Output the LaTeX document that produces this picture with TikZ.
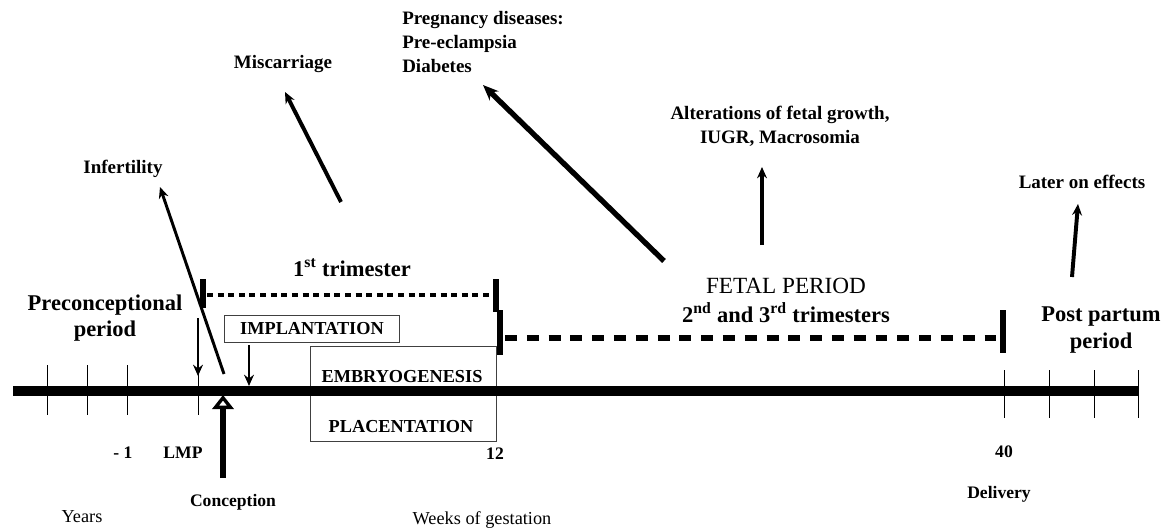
\documentclass[tikz,border=0pt]{standalone}
\usepackage{fontspec}
\setmainfont{Liberation Serif}
\usetikzlibrary{arrows.meta}

\begin{document}
\begin{tikzpicture}[x=0.025cm, y=-0.025cm, >={Stealth[length=8pt,width=7pt]},
    lbl/.style={font=\bfseries\fontsize{13.5}{17}\selectfont, inner sep=0pt},
    big/.style={font=\bfseries\fontsize{16}{19}\selectfont, inner sep=0pt, align=center},
    axl/.style={font=\bfseries\fontsize{12.5}{15}\selectfont, inner sep=0pt},
    unit/.style={font=\fontsize{13}{15}\selectfont, inner sep=0pt},
    boxlbl/.style={font=\bfseries\fontsize{13}{15}\selectfont, inner sep=0pt},
    tick/.style={line width=0.7pt},
    bar/.style={line width=4.25pt},
    effect/.style={->, line width=2.8pt}]
    \useasboundingbox (0,0) rectangle (1166,532);
    % axis and arrow end points
    \coordinate (axL) at (13,391);
    \coordinate (axR) at (1138,391);
    \coordinate (infS) at (224,374);
    \coordinate (infT) at (160,187);
    \coordinate (misS) at (341,202);
    \coordinate (misT) at (285,92);
    \coordinate (preS) at (664,261);
    \coordinate (preT) at (483,85);
    \coordinate (altS) at (762,245);
    \coordinate (altT) at (762,167);
    \coordinate (latS) at (1072,277);
    \coordinate (latT) at (1078,204);
    \coordinate (lmpS) at (198,318);
    \coordinate (lmpT) at (198,376);
    \coordinate (impS) at (249,345);
    \coordinate (impT) at (249,386);
    \coordinate (conS) at (223,478);
    \coordinate (conT) at (223,395);
    % boxes
    \draw [line width=0.7pt, black!75] (310,346) rectangle (496,441);
    \node [boxlbl, draw=black!75, line width=0.7pt, minimum width=4.35cm, minimum height=0.675cm] (impl) at (312,328.5) {IMPLANTATION};
    \node [boxlbl] (embryo) at (402,377) {EMBRYOGENESIS};
    \node [boxlbl] (placenta) at (401,427) {PLACENTATION};
    % time line
    \draw [line width=7pt] (axL) -- (axR);
    \foreach \x in {47,87,127,198}
        \draw [tick] (\x,365) -- (\x,415);
    \foreach \x in {1004,1049,1094,1138}
        \draw [tick] (\x,370) -- (\x,418);
    % periods
    \draw [bar] (203,279) -- (203,308);
    \draw [line width=3.5pt, dash pattern=on 4.25pt off 3.3pt] (207,295) -- (493,295);
    \draw [bar] (496,279) -- (496,312);
    \draw [bar] (500,310) -- (500,355);
    \draw [line width=4.25pt, dash pattern=on 8.5pt off 7pt] (505,338) -- (1000,338);
    \draw [bar] (1003,310) -- (1003,353);
    \node [big] (precon) at (105,318) {Preconceptional\\period};
    \node [big] (postp) at (1101,330) {Post partum\\period};
    \node [big] (tri1) at (352,268) {1\textsuperscript{st} trimester};
    \node [font=\fontsize{16.5}{19}\selectfont, inner sep=0pt] (fetal) at (786,286) {FETAL PERIOD};
    \node [big] (tri23) at (786,313) {2\textsuperscript{nd} and 3\textsuperscript{rd} trimesters};
    % effects
    \node [lbl] (infert) at (123,169) {Infertility};
    \node [lbl] (miscar) at (283,64) {Miscarriage};
    \node [lbl, align=left, anchor=west] (preg) at (402,42) {Pregnancy diseases:\\Pre-eclampsia\\Diabetes};
    \node [lbl, align=center] (alter) at (780,126) {Alterations of fetal growth,\\IUGR, Macrosomia};
    \node [lbl] (later) at (1082,182) {Later on effects};
    \draw [->, line width=2.1pt] (infS) -- (infT);
    \draw [effect] (misS) -- (misT);
    \draw [->, line width=3.8pt, >={Stealth[length=11pt,width=9pt]}] (preS) -- (preT);
    \draw [effect] (altS) -- (altT);
    \draw [effect] (latS) -- (latT);
    % markers on the time line
    \draw [->, line width=2.1pt] (lmpS) -- (lmpT);
    \draw [->, line width=2.1pt] (impS) -- (impT);
    \draw [line width=4.25pt, -{Triangle[open, length=10pt, width=15pt, line width=2.4pt]}] (conS) -- (conT);
    \node [axl] (yr1) at (123,453) {- 1};
    \node [axl] (lmp) at (183,453) {LMP};
    \node [axl] (w12) at (495,454) {12};
    \node [axl] (w40) at (1004,452) {40};
    \node [axl] (concep) at (233,502) {Conception};
    \node [axl] (deliv) at (999,494) {Delivery};
    \node [unit] (years) at (82,517) {Years};
    \node [unit] (weeks) at (482,520) {Weeks of gestation};
\end{tikzpicture}
\end{document}
